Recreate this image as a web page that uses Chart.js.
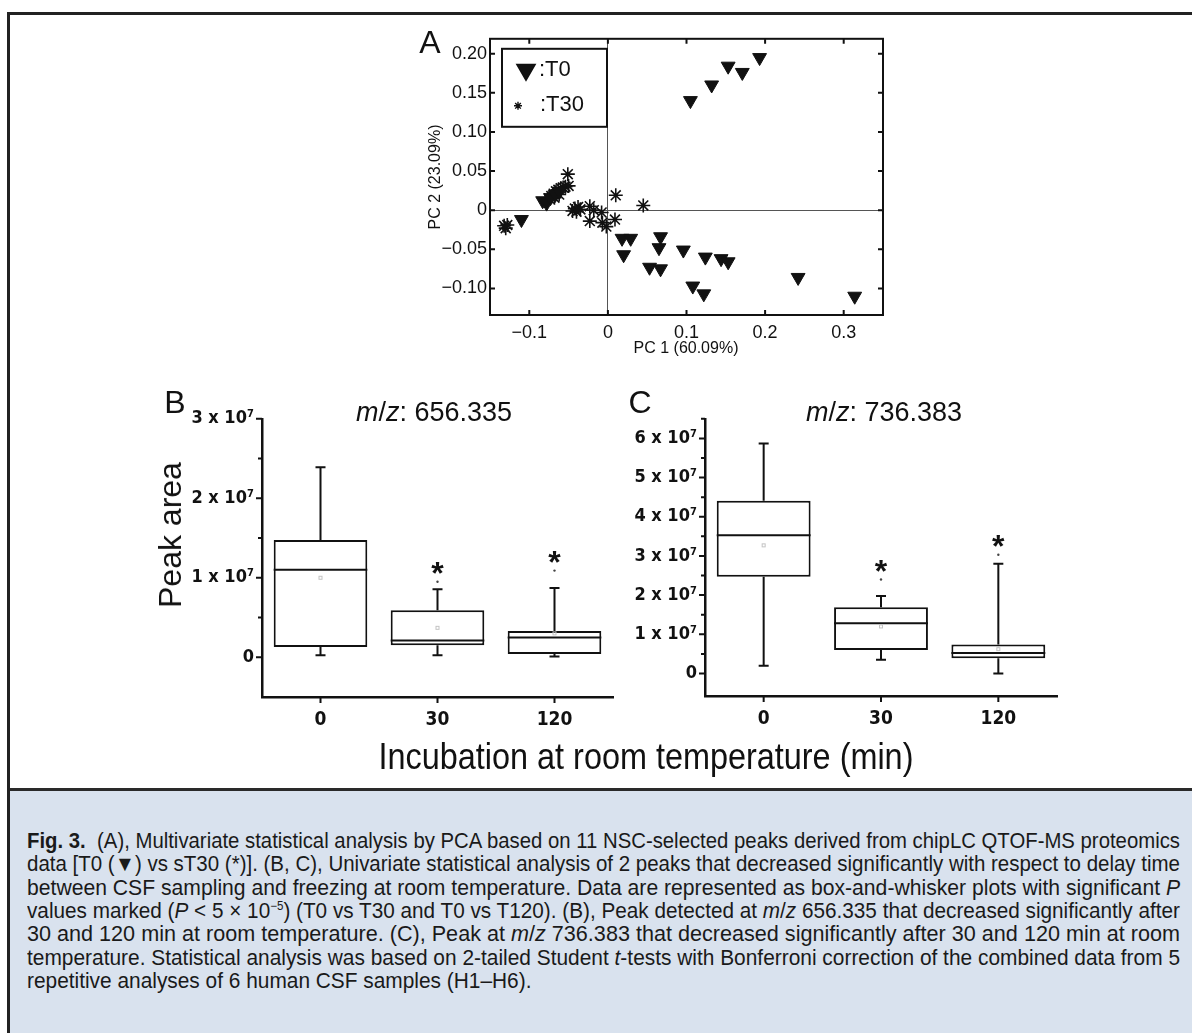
<!DOCTYPE html>
<html>
<head>
<meta charset="utf-8">
<script src="https://cdn.jsdelivr.net/npm/chart.js@4.4.1/dist/chart.umd.min.js"></script>
<style>
  body { margin: 0; width: 1192px; height: 1033px; position: relative; overflow: hidden; background: #fff;
         font-family: 'Liberation Sans', Arial, Helvetica, sans-serif; color: #111; }
  canvas { position: absolute; }
  .lbl { position: absolute; white-space: nowrap; transform: translate(-50%, -50%); line-height: 1; }
  .frame-top { position: absolute; left: 8px; top: 12px; width: 1184px; height: 3px; background: #222; }
  .frame-left { position: absolute; left: 7px; top: 12px; width: 3px; height: 1021px; background: #222; }
  .cap-bg { position: absolute; left: 10px; top: 788px; width: 1182px; height: 245px; background: #d9e2ee; border-top: 3px solid #2a2a2a; }
  .cap-line { position: absolute; left: 27px; height: 24px; line-height: 24px; font-size: 21.5px; color: #1a1a1a;
              transform-origin: left center; white-space: nowrap; }
  .cap-line sup { font-size: 12px; line-height: 0; }
</style>
</head>
<body>
<div class="frame-top"></div>
<div class="frame-left"></div>

<canvas id="pca" width="500" height="340" style="left:400px;top:25px"></canvas>
<canvas id="boxB" width="470" height="337" style="left:150px;top:400px"></canvas>
<canvas id="boxC" width="465" height="336" style="left:600px;top:400px"></canvas>

<div class="lbl" style="left:430px;top:42px;font-size:32px">A</div>
<div class="lbl" style="left:435px;top:177px;font-size:16px;transform:translate(-50%,-50%) rotate(-90deg)">PC 2 (23.09%)</div>
<div class="lbl" style="left:686px;top:348px;font-size:16px">PC 1 (60.09%)</div>

<div class="lbl" style="left:175px;top:402px;font-size:32px">B</div>
<div class="lbl" style="left:434px;top:412px;font-size:27px"><i>m</i>/<i>z</i>: 656.335</div>
<div class="lbl" style="left:640px;top:402px;font-size:32px">C</div>
<div class="lbl" style="left:884px;top:412px;font-size:27px"><i>m</i>/<i>z</i>: 736.383</div>
<div class="lbl" style="left:170px;top:535px;font-size:32px;transform:translate(-50%,-50%) rotate(-90deg)">Peak area</div>
<div class="lbl" style="left:646px;top:757px;font-size:36px;transform:translate(-50%,-50%) scaleX(0.9)">Incubation at room temperature (min)</div>

<div class="cap-bg"></div>
<div class="cap-line fit" style="top:829px"><span><b>Fig. 3.</b>&nbsp; (A), Multivariate statistical analysis by PCA based on 11 NSC-selected peaks derived from chipLC QTOF-MS proteomics</span></div>
<div class="cap-line fit" style="top:852px"><span>data [T0 (▼) vs sT30 (*)]. (B, C), Univariate statistical analysis of 2 peaks that decreased significantly with respect to delay time</span></div>
<div class="cap-line fit" style="top:876px"><span>between CSF sampling and freezing at room temperature. Data are represented as box-and-whisker plots with significant <i>P</i></span></div>
<div class="cap-line fit" style="top:899px"><span>values marked (<i>P</i> &lt; 5 × 10<sup>−5</sup>) (T0 vs T30 and T0 vs T120). (B), Peak detected at <i>m</i>/<i>z</i> 656.335 that decreased significantly after</span></div>
<div class="cap-line fit" style="top:922px"><span>30 and 120 min at room temperature. (C), Peak at <i>m</i>/<i>z</i> 736.383 that decreased significantly after 30 and 120 min at room</span></div>
<div class="cap-line fit" style="top:946px"><span>temperature. Statistical analysis was based on 2-tailed Student <i>t</i>-tests with Bonferroni correction of the combined data from 5</span></div>
<div class="cap-line last" style="top:969px"><span>repetitive analyses of 6 human CSF samples (H1–H6).</span></div>

<script>
// ---- data ----
const pcaXTicks = [-0.1, 0, 0.1, 0.2, 0.3];
const pcaYTicks = [-0.10, -0.05, 0, 0.05, 0.10, 0.15, 0.20];

// PCA scores, T0 (triangles)
const t0Points = [
  [0.193, 0.195], [0.153, 0.184], [0.171, 0.176], [0.132, 0.160], [0.105, 0.140],
  [-0.110, -0.012],
  [-0.083, 0.012], [-0.078, 0.009], [-0.073, 0.016], [-0.067, 0.020], [-0.062, 0.024],
  [0.018, -0.036], [0.029, -0.036], [0.020, -0.057], [0.067, -0.034], [0.065, -0.048],
  [0.053, -0.073], [0.067, -0.075], [0.096, -0.051], [0.124, -0.060], [0.144, -0.062],
  [0.153, -0.066], [0.108, -0.097], [0.122, -0.107], [0.242, -0.086], [0.314, -0.110],
];
// PCA scores, T30 (asterisks)
const t30Points = [
  [-0.132, -0.020], [-0.130, -0.023], [-0.128, -0.019],
  [-0.075, 0.015], [-0.072, 0.018], [-0.069, 0.021], [-0.066, 0.024], [-0.063, 0.026],
  [-0.060, 0.028], [-0.057, 0.029], [-0.054, 0.030], [-0.050, 0.031], [-0.068, 0.016], [-0.062, 0.020],
  [-0.051, 0.046],
  [-0.045, -0.001], [-0.042, 0.002], [-0.038, 0.004], [-0.035, 0.001], [-0.040, -0.002],
  [-0.023, 0.005], [-0.023, -0.014], [-0.018, 0.000],
  [-0.008, -0.003], [-0.007, -0.016], [-0.002, -0.021],
  [0.010, 0.019], [0.009, -0.012], [0.045, 0.006],
];

const timeLabels = ['0', '30', '120'];

// m/z 656.335
const bTicks = [0, 1e7, 2e7, 3e7];
const bLow = [0.025e7, 0.025e7, 0.01e7];
const bQ1 = [0.13e7, 0.15e7, 0.04e7];
const bMedian = [1.10e7, 0.21e7, 0.25e7];
const bQ3 = [1.475e7, 0.59e7, 0.33e7];
const bHigh = [2.39e7, 0.855e7, 0.87e7];
const bMean = [1.0e7, 0.37e7, 0.30e7];
const bOutlier = [null, 0.95e7, 1.09e7];
const bSignificant = [false, true, true];

// m/z 736.383
const cTicks = [0, 1e7, 2e7, 3e7, 4e7, 5e7, 6e7];
const cLow = [0.2e7, 0.35e7, 0.0e7];
const cQ1 = [2.47e7, 0.6e7, 0.39e7];
const cMedian = [3.53e7, 1.28e7, 0.52e7];
const cQ3 = [4.41e7, 1.69e7, 0.74e7];
const cHigh = [5.87e7, 1.98e7, 2.8e7];
const cMean = [3.27e7, 1.2e7, 0.62e7];
const cOutlier = [null, 2.4e7, 3.03e7];
const cSignificant = [false, true, true];

// ---- styling ----
const SANS = "'Liberation Sans', Arial, Helvetica, sans-serif";
const NARROW = "'Liberation Sans Narrow', 'Arial Narrow', 'DejaVu Sans Condensed', 'Liberation Sans', sans-serif";
const INK = '#111';

const minus = s => s.replace('-', '\u2212');
const fmtPow = v => v === 0 ? '0' : `${Math.round(v / 1e7)} x 10\u2077`;

// caption lines: squeeze each to the full text width (justified look)
const CAPTION_WIDTH = 1153;
const scales = [];
document.querySelectorAll('.cap-line.fit').forEach(line => {
  const w = line.firstElementChild.getBoundingClientRect().width;
  const k = CAPTION_WIDTH / w;
  scales.push(k);
  line.style.transform = `scaleX(${k})`;
});
const avgScale = scales.reduce((a, b) => a + b, 0) / scales.length;
document.querySelector('.cap-line.last').style.transform = `scaleX(${avgScale})`;

// box frame, inside ticks and legend of the PCA panel
const pcaFrame = {
  id: 'pcaFrame',
  afterDraw(chart) {
    const { ctx, chartArea: a, scales: { x, y } } = chart;
    ctx.save();
    ctx.strokeStyle = INK;
    ctx.lineWidth = 2;
    ctx.strokeRect(a.left, a.top, a.right - a.left, a.bottom - a.top);
    ctx.beginPath();
    pcaXTicks.forEach(v => {
      const px = x.getPixelForValue(v);
      ctx.moveTo(px, a.bottom); ctx.lineTo(px, a.bottom - 5);
      ctx.moveTo(px, a.top); ctx.lineTo(px, a.top + 5);
    });
    pcaYTicks.forEach(v => {
      const py = y.getPixelForValue(v);
      ctx.moveTo(a.left, py); ctx.lineTo(a.left + 5, py);
      ctx.moveTo(a.right, py); ctx.lineTo(a.right - 5, py);
    });
    ctx.stroke();

    // legend
    const lx = a.left + 12, ly = a.top + 10;
    ctx.fillStyle = '#fff';
    ctx.fillRect(lx, ly, 105, 78);
    ctx.strokeRect(lx, ly, 105, 78);
    const ds = chart.data.datasets;
    Chart.helpers.drawPoint(ctx, { pointStyle: 'triangle', rotation: 180, radius: 10, borderWidth: 1 },
      lx + 24, ly + 21);
    ctx.fillStyle = INK;
    ctx.fill();
    ctx.lineWidth = 1.4;
    Chart.helpers.drawPoint(ctx, { pointStyle: 'star', rotation: 0, radius: 4, borderWidth: 1.4 },
      lx + 16, ly + 57);
    ctx.font = `22px ${SANS}`;
    ctx.textBaseline = 'middle';
    ctx.fillText(':' + ds[0].label, lx + 37, ly + 21);
    ctx.fillText(':' + ds[1].label, lx + 38, ly + 56);
    ctx.restore();
  }
};

new Chart(document.getElementById('pca'), {
  type: 'scatter',
  data: {
    datasets: [
      {
        label: 'T0',
        data: t0Points.map(([x, y]) => ({ x, y })),
        pointStyle: 'triangle',
        rotation: 180,
        radius: 8,
        backgroundColor: INK,
        borderColor: INK,
        borderWidth: 1,
      },
      {
        label: 'T30',
        data: t30Points.map(([x, y]) => ({ x, y })),
        pointStyle: 'star',
        radius: 7,
        backgroundColor: INK,
        borderColor: INK,
        borderWidth: 1.6,
      },
    ],
  },
  options: {
    responsive: false,
    animation: false,
    events: [],
    layout: { padding: { top: 12, right: 17, left: 0, bottom: 0 } },
    plugins: { legend: { display: false }, tooltip: { enabled: false } },
    scales: {
      x: {
        type: 'linear',
        min: -0.15,
        max: 0.35,
        afterBuildTicks: s => { s.ticks = pcaXTicks.map(value => ({ value })); },
        afterFit: s => { s.height = 50; },
        grid: { drawTicks: false, lineWidth: 1, color: c => (c.tick && c.tick.value === 0 ? '#555' : 'rgba(0,0,0,0)') },
        border: { display: false },
        ticks: {
          padding: 7,
          color: INK,
          font: { family: SANS, size: 18 },
          callback: v => (v === 0 ? '0' : minus(v.toFixed(1))),
        },
      },
      y: {
        type: 'linear',
        min: -0.134,
        max: 0.219,
        afterBuildTicks: s => { s.ticks = pcaYTicks.map(value => ({ value })); },
        afterFit: s => { s.width = 90; },
        grid: { drawTicks: false, lineWidth: 1, color: c => (c.tick && c.tick.value === 0 ? '#555' : 'rgba(0,0,0,0)') },
        border: { display: false },
        ticks: {
          padding: 3,
          color: INK,
          font: { family: SANS, size: 18 },
          callback: v => (v === 0 ? '0' : minus(v.toFixed(2))),
        },
      },
    },
  },
  plugins: [pcaFrame],
});

// whiskers, medians, means, outliers and significance stars
const boxWhisker = {
  id: 'boxWhisker',
  afterDatasetsDraw(chart, args, o) {
    const { ctx, scales: { x, y } } = chart;
    const bars = chart.getDatasetMeta(0).data;
    ctx.save();
    o.median.forEach((m, i) => {
      const cx = x.getPixelForValue(i);
      const half = bars[i].width / 2;
      const yq1 = y.getPixelForValue(o.q1[i]);
      const yq3 = y.getPixelForValue(o.q3[i]);
      const ylo = y.getPixelForValue(o.low[i]);
      const yhi = y.getPixelForValue(o.high[i]);
      const ymed = y.getPixelForValue(m);
      ctx.strokeStyle = INK;
      ctx.lineWidth = 2;
      ctx.beginPath();
      ctx.moveTo(cx, yq3); ctx.lineTo(cx, yhi);
      ctx.moveTo(cx - 5, yhi); ctx.lineTo(cx + 5, yhi);
      ctx.moveTo(cx, yq1); ctx.lineTo(cx, ylo);
      ctx.moveTo(cx - 5, ylo); ctx.lineTo(cx + 5, ylo);
      ctx.moveTo(cx - half, ymed); ctx.lineTo(cx + half, ymed);
      ctx.stroke();

      ctx.strokeStyle = '#c4c4c4';
      ctx.lineWidth = 1;
      ctx.strokeRect(cx - 1.5, y.getPixelForValue(o.mean[i]) - 1.5, 3, 3);

      let top = yhi;
      if (o.outlier[i] != null) {
        const yo = y.getPixelForValue(o.outlier[i]);
        ctx.fillStyle = '#444';
        ctx.beginPath();
        ctx.arc(cx, yo, 1.2, 0, Math.PI * 2);
        ctx.fill();
        top = Math.min(top, yo);
      }
      if (o.sig[i]) {
        ctx.fillStyle = INK;
        ctx.font = `bold 32px ${SANS}`;
        ctx.textAlign = 'center';
        ctx.textBaseline = 'alphabetic';
        ctx.fillText('*', cx, top - 16 + 0.57 * 32);
      }
    });
    ctx.restore();
  }
};

// outward axis ticks (major + half-step minor)
const boxTicks = {
  id: 'boxTicks',
  afterDraw(chart, args, o) {
    const { ctx, chartArea: a, scales: { x, y } } = chart;
    ctx.save();
    ctx.strokeStyle = INK;
    ctx.lineWidth = 2;
    ctx.beginPath();
    const step = o.ticks[1] - o.ticks[0];
    const n = Math.floor(y.max / (step / 2));
    for (let k = 0; k <= n; k++) {
      const py = y.getPixelForValue(k * step / 2);
      ctx.moveTo(a.left - (k % 2 === 0 ? 6 : 4), py);
      ctx.lineTo(a.left, py);
    }
    timeLabels.forEach((_, i) => {
      const px = x.getPixelForValue(i);
      ctx.moveTo(px, a.bottom);
      ctx.lineTo(px, a.bottom + 6);
    });
    ctx.stroke();
    ctx.restore();
  }
};

function boxChart(id, s) {
  return new Chart(document.getElementById(id), {
    type: 'bar',
    data: {
      labels: timeLabels,
      datasets: [{
        data: s.q1.map((q, i) => [q, s.q3[i]]),
        backgroundColor: '#fff',
        borderColor: INK,
        borderWidth: 2,
        borderSkipped: false,
        barPercentage: 0.8,
        categoryPercentage: 1,
      }],
    },
    options: {
      responsive: false,
      animation: false,
      events: [],
      layout: { padding: { top: s.padTop, right: s.padRight, left: 0, bottom: 0 } },
      plugins: {
        legend: { display: false },
        tooltip: { enabled: false },
        boxWhisker: s,
        boxTicks: { ticks: s.ticks },
      },
      scales: {
        x: {
          afterFit: sc => { sc.height = 40; },
          grid: { display: false, drawTicks: false },
          border: { display: true, color: INK, width: 2.5 },
          ticks: { padding: 12, color: INK, font: { family: NARROW, size: 19, weight: 'bold' } },
        },
        y: {
          min: s.min,
          max: s.max,
          afterBuildTicks: sc => { sc.ticks = s.ticks.map(value => ({ value })); },
          afterFit: sc => { sc.width = s.axisWidth; },
          grid: { display: false, drawTicks: false },
          border: { display: true, color: INK, width: 2.5 },
          ticks: {
            padding: 8,
            color: INK,
            font: { family: NARROW, size: 18, weight: 'bold' },
            callback: fmtPow,
          },
        },
      },
    },
    plugins: [boxWhisker, boxTicks],
  });
}

boxChart('boxB', {
  low: bLow, q1: bQ1, median: bMedian, q3: bQ3, high: bHigh, mean: bMean, outlier: bOutlier, sig: bSignificant,
  ticks: bTicks, min: -0.5e7, max: 3e7, axisWidth: 112, padTop: 18, padRight: 7,
});

boxChart('boxC', {
  low: cLow, q1: cQ1, median: cMedian, q3: cQ3, high: cHigh, mean: cMean, outlier: cOutlier, sig: cSignificant,
  ticks: cTicks, min: -0.575e7, max: 6.5e7, axisWidth: 105, padTop: 13, padRight: 8,
});
</script>
</body>
</html>
